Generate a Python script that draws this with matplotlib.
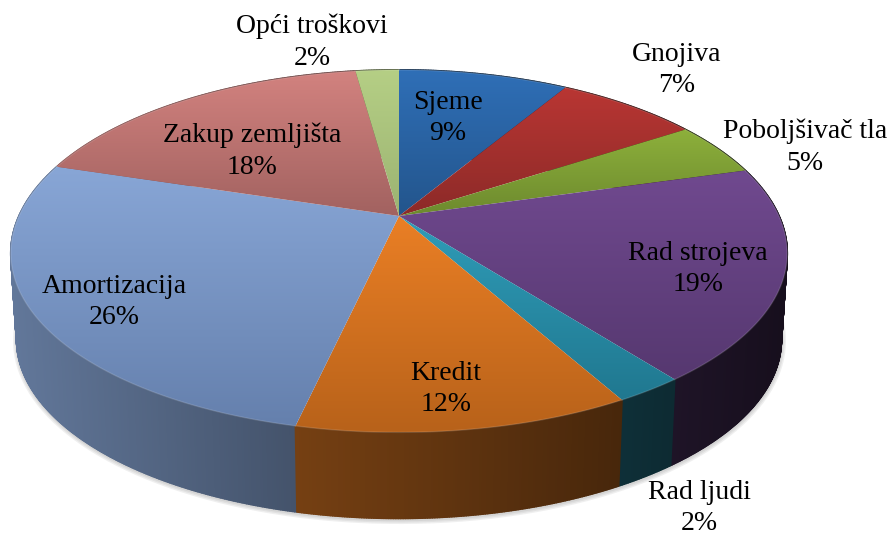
import numpy as np
import matplotlib
matplotlib.use('Agg')
import matplotlib.pyplot as plt
from matplotlib.patches import Polygon
from matplotlib.collections import PolyCollection
from matplotlib.colors import to_rgb

names = ['Sjeme', 'Gnojiva', 'Poboljšivač tla', 'Rad strojeva', 'Rad ljudi',
         'Kredit', 'Amortizacija', 'Zakup zemljišta', 'Opći troškovi']
# slice sizes, printed labels are the rounded ones
shares = [8.6, 7.2, 4.8, 19.0, 2.4, 11.5, 26.3, 18.0, 2.2]
percents = [9, 7, 5, 19, 2, 12, 26, 18, 2]

# style, not data
top_light = ['#2f6fb7', '#b93633', '#8db03b', '#70498f', '#2f9cb8',
             '#ea7f25', '#88a6d6', '#d2827f', '#b5cf85']
top_dark = ['#23558c', '#8c2a28', '#6d8a2e', '#563870', '#207890',
            '#b8621a', '#6580ad', '#a26260', '#9cb372']
label_xy = [(448, 118), (677, 70), (805, 147), (698, 269), (699, 508),
            (446, 389), (114, 302), (252, 151), (312, 42)]

W, H = 890, 537
CX, CY = 399, 216
A, B, K = 175.9, 380.0, 0.204
YMID = 253
DROP = 86
SHRINK = 0.985


def rim(t, drop=0, shrink=1.0):
    # perspective view of the unit circle, t clockwise from the back
    u, v = np.sin(t), -np.cos(t)
    d = 1 - K * v
    y = CY + A * v / d
    y = np.where(y > YMID, YMID + (y - YMID) * 0.975, y)
    return np.column_stack([CX + shrink * B * u / d, y + drop])


def side_light(x):
    return np.interp(x, [10, 295, 300, 630, 790], [0.72, 0.50, 0.50, 0.30, 0.20])


def fill_gradient(ax, pts, img, zorder):
    x0, x1 = pts[:, 0].min(), pts[:, 0].max()
    y0, y1 = pts[:, 1].min(), pts[:, 1].max()
    im = ax.imshow(img, extent=(x0, x1, y1, y0), aspect='auto',
                   interpolation='bilinear', zorder=zorder)
    patch = Polygon(pts, closed=True, transform=ax.transData, fc='none', ec='none')
    ax.add_patch(patch)
    im.set_clip_path(patch)


fig = plt.figure(figsize=(W / 100, H / 100), dpi=100)
ax = fig.add_axes([0, 0, 1, 1])
ax.axis('off')

edges = 2 * np.pi * np.cumsum([0] + shares) / sum(shares)

# soft shadow under the cake
outline = rim(np.linspace(0, 2 * np.pi, 400), DROP, SHRINK)
for lw in [6, 4, 2]:
    ax.plot(outline[:, 0] + 0.5, outline[:, 1] + 1.5, color='#555555', lw=lw, alpha=0.09,
            solid_joinstyle='round', zorder=1)

# side walls as thin strips so the silhouette stays closed at both ends
quads, quad_cols, quad_y = [], [], []
for i in range(len(shares)):
    t = np.linspace(edges[i], edges[i + 1], int(shares[i] * 12) + 2)
    up, low = rim(t), rim(t, DROP, SHRINK)
    for j in range(len(t) - 1):
        quads.append([up[j], up[j + 1], low[j + 1], low[j]])
        xm = (up[j, 0] + up[j + 1, 0]) / 2
        quad_cols.append(np.array(to_rgb(top_light[i])) * side_light(xm))
        quad_y.append(up[j, 1])
order = np.argsort(quad_y)
ax.add_collection(PolyCollection([quads[n] for n in order],
                                 facecolors=[quad_cols[n] for n in order],
                                 edgecolors=[quad_cols[n] for n in order],
                                 linewidths=1.3, zorder=2))

# top faces
for i in range(len(shares)):
    t = np.linspace(edges[i], edges[i + 1], 120)
    pts = np.vstack([[CX, CY], rim(t)])
    img = np.linspace(to_rgb(top_light[i]), to_rgb(top_dark[i]), 80).reshape(80, 1, 3)
    fill_gradient(ax, pts, img, 3)
    # thin lighter bevel along the rim
    r = rim(t)
    ax.plot(r[:, 0], r[:, 1], color='white', lw=1.0, alpha=0.14, zorder=4)

for name, pct, (x, y) in zip(names, percents, label_xy):
    ax.text(x, y, f'{name}\n{pct}%', ha='center', va='center', color='black',
            family='Liberation Serif', fontsize=20, linespacing=1.35, zorder=5)

ax.set_xlim(0, W)
ax.set_ylim(H, 0)
fig.savefig('out.png', dpi=100, facecolor='white')
